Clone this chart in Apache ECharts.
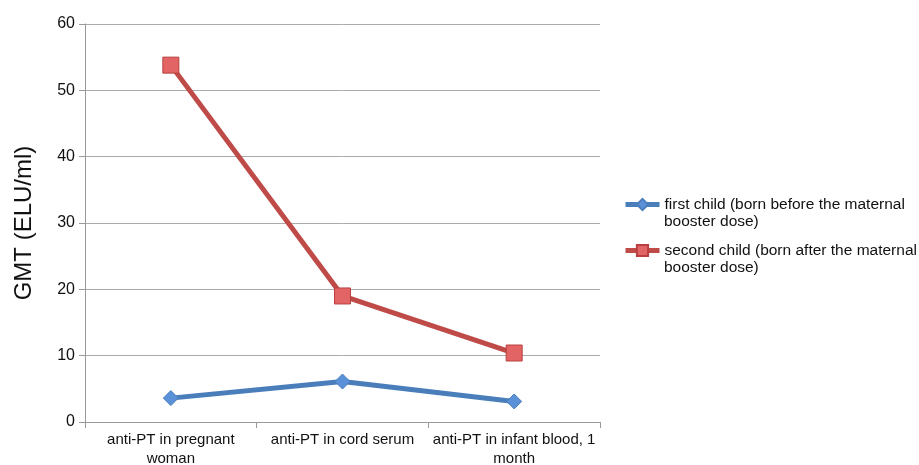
<!DOCTYPE html>
<html><head><meta charset="utf-8">
<script src="https://cdn.jsdelivr.net/npm/echarts@6/dist/echarts.min.js"></script>
<style>html,body{margin:0;padding:0;background:#fff}#c{width:919px;height:465px}</style>
</head><body><div id="c"></div>
<script>
const categories = ["anti-PT in pregnant\nwoman", "anti-PT in cord serum", "anti-PT in infant blood, 1\nmonth"];
const firstChild = [3.6, 6.1, 3.1];
const secondChild = [53.8, 19.0, 10.4];
const seriesNames = ["first child (born before the maternal", "second child (born after the maternal"];
const seriesNamesCont = ["booster dose)", "booster dose)"];
const yTicks = {min: 0, max: 60, interval: 10};

const font = 'Liberation Sans, Arial, Helvetica';
const legendTops = [195, 241];
const legendLeft = 623, legendIconW = 34;
const legendText = {fontFamily: font, fontSize: 15.5, color: '#111', lineHeight: 19};

const chart = echarts.init(document.getElementById('c'));
chart.setOption({
  animation: false,
  grid: {left: 85, right: 319, top: 24, bottom: 43, outerBoundsMode: 'none', containLabel: false},
  legend: seriesNames.map((n, i) => ({
    orient: 'vertical', left: legendLeft, top: legendTops[i], itemWidth: legendIconW, itemHeight: 14,
    padding: 0,
    lineStyle: {width: 5},
    textStyle: legendText,
    data: [n]
  })),
  graphic: seriesNamesCont.map((t, i) => ({
    type: 'text', left: legendLeft + legendIconW + 7, top: legendTops[i] + 19,
    style: {text: t, font: '15.5px ' + font, fill: '#111'}
  })),
  xAxis: {
    type: 'category', data: categories, boundaryGap: true,
    axisLine: {lineStyle: {color: '#999'}},
    axisTick: {show: true, length: 6, lineStyle: {color: '#999'}},
    axisLabel: {fontFamily: font, fontSize: 15, color: '#111', lineHeight: 19, margin: 8, interval: 0}
  },
  yAxis: {
    type: 'value', min: yTicks.min, max: yTicks.max, interval: yTicks.interval,
    name: 'GMT (ELU/ml)', nameLocation: 'middle', nameGap: 49,
    nameTextStyle: {fontFamily: font, fontSize: 24, color: '#111'},
    axisLine: {show: true, lineStyle: {color: '#999'}},
    axisTick: {show: true, length: 6, lineStyle: {color: '#999'}},
    axisLabel: {fontFamily: font, fontSize: 16, color: '#111', margin: 10},
    splitLine: {lineStyle: {color: '#aaa', width: 1}}
  },
  series: [
    {
      name: seriesNames[0], type: 'line', data: firstChild,
      symbol: 'diamond', symbolSize: 15,
      lineStyle: {color: '#4a7ebb', width: 5},
      itemStyle: {color: '#5b91d8', borderColor: '#4a7ebb', borderWidth: 1}
    },
    {
      name: seriesNames[1], type: 'line', data: secondChild,
      symbol: 'rect', symbolSize: 16,
      lineStyle: {color: '#be4b48', width: 5},
      itemStyle: {color: '#e36464', borderColor: '#b84040', borderWidth: 1}
    }
  ]
});
</script></body></html>
